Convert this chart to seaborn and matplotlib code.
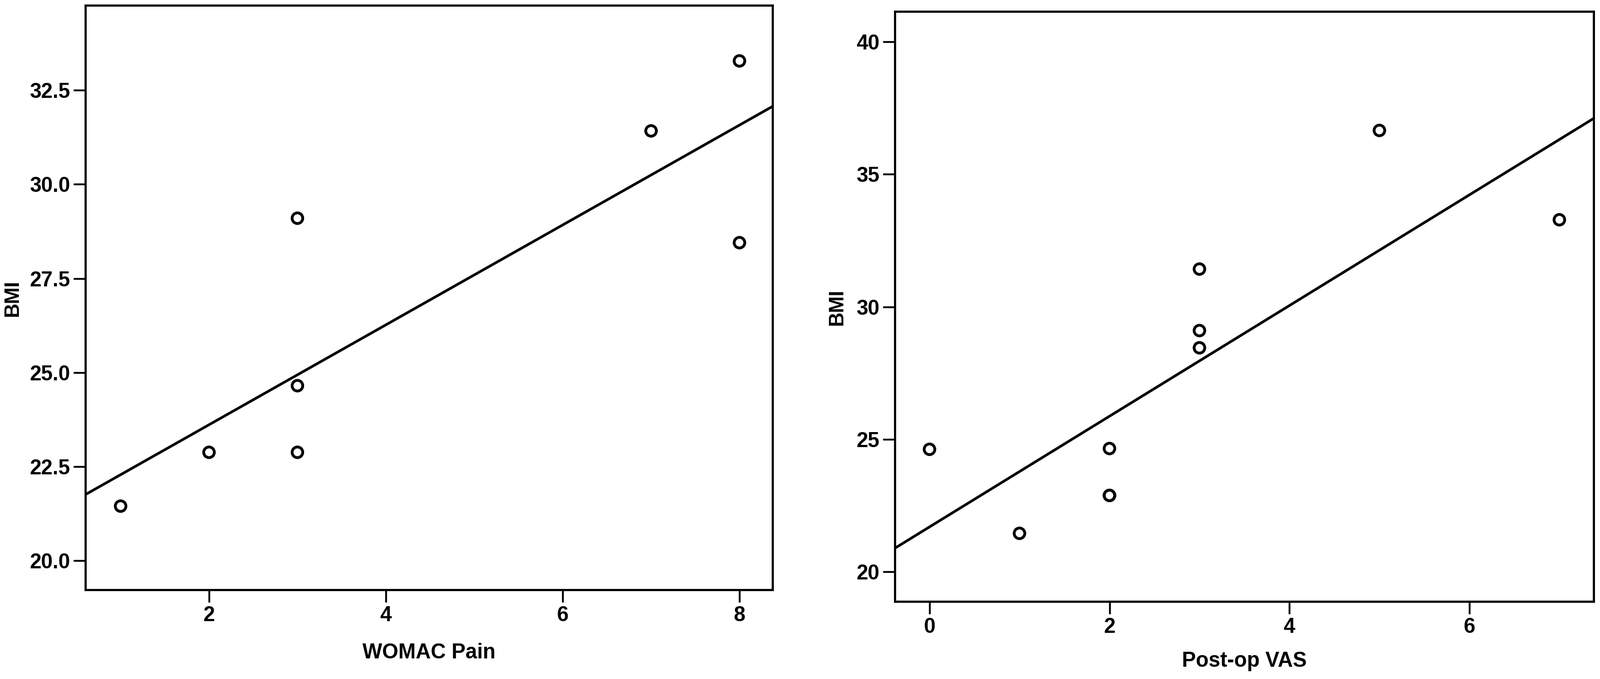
import numpy as np
import seaborn as sns
import matplotlib
matplotlib.use("Agg")
import matplotlib.pyplot as plt

# --- data ---
womac_pain = [1, 2, 3, 3, 3, 7, 8, 8]
bmi_womac = [21.45, 22.88, 29.10, 24.65, 22.88, 31.42, 33.28, 28.45]

postop_vas = [0, 1, 2, 2, 2, 3, 3, 3, 5, 7]
bmi_vas = [24.62, 21.45, 24.65, 22.88, 22.88, 31.42, 29.10, 28.45, 36.65, 33.28]

left_xticks = [2, 4, 6, 8]
left_yticks = [20.0, 22.5, 25.0, 27.5, 30.0, 32.5]
right_xticks = [0, 2, 4, 6]
right_yticks = [20, 25, 30, 35, 40]

sns.set_style("ticks")
plt.rcParams["font.family"] = ["Liberation Sans", "DejaVu Sans"]
plt.rcParams["font.weight"] = "bold"
for key in ["text.color", "axes.labelcolor", "xtick.color", "ytick.color",
            "axes.edgecolor"]:
    plt.rcParams[key] = "black"

fig = plt.figure(figsize=(28.78, 12.21), dpi=100)
ax1 = fig.add_axes([0.0535, 0.1310, 0.4295, 0.8608])
ax2 = fig.add_axes([0.5594, 0.1138, 0.4368, 0.8690])

scatter_style = dict(s=190, facecolors="none", edgecolors="black",
                     linewidths=3.6, alpha=1, zorder=3)
line_style = dict(color="black", linewidth=3.4)


def draw_panel(ax, x, y, xlim, ylim, xticks, yticks, xlabel):
    # limits first so the fitted line runs edge to edge
    ax.set_xlim(xlim)
    ax.set_ylim(ylim)
    sns.regplot(x=np.array(x), y=np.array(y), ax=ax, ci=None, truncate=False,
                color="black", scatter_kws=scatter_style, line_kws=line_style)
    ax.set_xlim(xlim)
    ax.set_ylim(ylim)
    ax.set_xticks(xticks)
    ax.set_yticks(yticks)
    ax.tick_params(axis="both", direction="out", length=16, width=2.4,
                   labelsize=27, color="black", labelcolor="black", pad=4)
    for lbl in ax.get_xticklabels() + ax.get_yticklabels():
        lbl.set_fontweight("bold")
    for sp in ax.spines.values():
        sp.set_visible(True)
        sp.set_linewidth(2.8)
        sp.set_color("black")
    ax.set_xlabel(xlabel, fontsize=27, fontweight="bold", color="black")
    ax.set_ylabel("BMI", fontsize=26, fontweight="bold", color="black")


draw_panel(ax1, womac_pain, bmi_womac, (0.604, 8.377), (19.22, 34.75),
           left_xticks, left_yticks, "WOMAC Pain")
ax1.set_yticklabels([f"{v:.1f}" for v in left_yticks])
ax1.xaxis.set_label_coords(0.5, -0.090)
ax1.yaxis.set_label_coords(-0.092, 0.5)

draw_panel(ax2, postop_vas, bmi_vas, (-0.383, 7.384), (18.87, 41.13),
           right_xticks, right_yticks, "Post-op VAS")
ax2.xaxis.set_label_coords(0.5, -0.084)
ax2.yaxis.set_label_coords(-0.069, 0.5)

fig.savefig("out.png", dpi=100, facecolor="white")
